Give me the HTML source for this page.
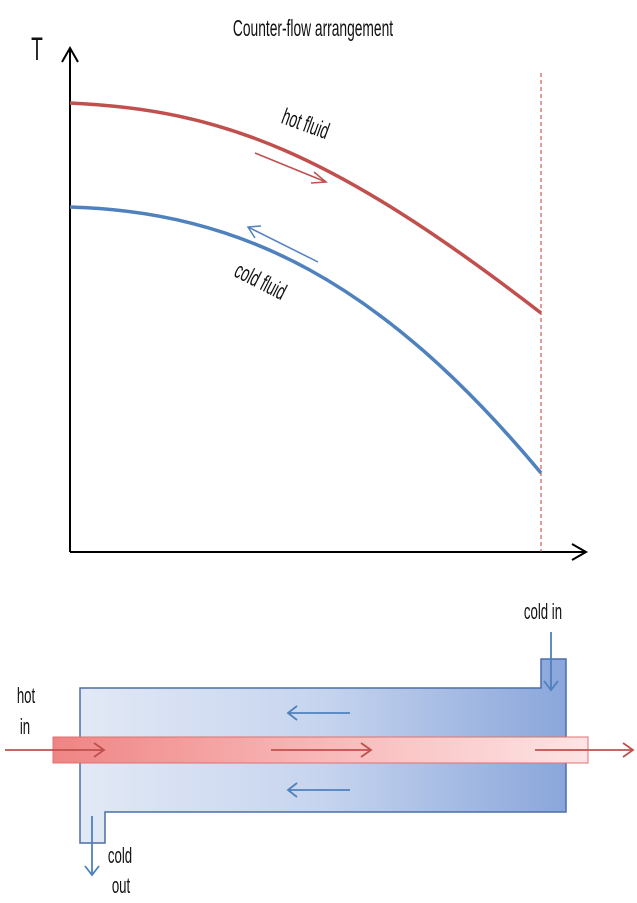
<!DOCTYPE html>
<html><head><meta charset="utf-8"><style>
html,body{margin:0;padding:0;background:#fff}
svg{display:block}
text{font-family:"Liberation Sans",sans-serif;fill:#111}
</style></head><body>
<svg width="637" height="903" viewBox="0 0 637 903" xmlns="http://www.w3.org/2000/svg">
<defs>
<linearGradient id="shell" x1="0" x2="1" y1="0" y2="0">
<stop offset="0" stop-color="#e2e9f6"/><stop offset="0.5" stop-color="#c6d4ee"/><stop offset="1" stop-color="#8aa6db"/>
</linearGradient>
<linearGradient id="tube" x1="0" x2="1" y1="0" y2="0">
<stop offset="0" stop-color="#f08484"/><stop offset="0.5" stop-color="#f8b8b8"/><stop offset="1" stop-color="#fde4e4"/>
</linearGradient>
</defs>
<text x="0" y="0" font-size="23" text-anchor="middle" transform="translate(313,36) scale(0.6,1)">Counter-flow arrangement</text>
<text x="0" y="0" font-size="32" text-anchor="middle" transform="translate(37,60) scale(0.6,1)">T</text>
<line x1="70" y1="48" x2="70" y2="552" stroke="#000" stroke-width="2"/>
<polyline points="62,62 70,48 78,62" fill="none" stroke="#000" stroke-width="2"/>
<line x1="70" y1="552" x2="586" y2="552" stroke="#000" stroke-width="2"/>
<polyline points="572,544 586,552 572,560" fill="none" stroke="#000" stroke-width="2"/>
<line x1="541" y1="73" x2="541" y2="552" stroke="#c0392b" stroke-width="1" stroke-dasharray="4,3"/>
<path d="M70,103 C220,110 330,150 541,313" fill="none" stroke="#c0504d" stroke-width="3.5"/>
<path d="M70,207 C240,212 380,280 541,473" fill="none" stroke="#4f81bd" stroke-width="3.5"/>
<line x1="255" y1="153" x2="326" y2="182" stroke="#c0504d" stroke-width="1.5"/>
<polyline points="314,172 326,182 311,183" fill="none" stroke="#c0504d" stroke-width="1.5"/>
<line x1="318" y1="262" x2="248" y2="227" stroke="#4f81bd" stroke-width="1.5"/>
<polyline points="255,238 248,227 261,226" fill="none" stroke="#4f81bd" stroke-width="1.5"/>
<text x="0" y="0" font-size="23" text-anchor="middle" transform="translate(303,131) rotate(20) scale(0.6,1)">hot fluid</text>
<text x="0" y="0" font-size="23" text-anchor="middle" transform="translate(257,288) rotate(27) scale(0.6,1)">cold fluid</text>
<path d="M80,688 L541,688 L541,659 L566,659 L566,812 L105,812 L105,843 L80,843 Z" fill="url(#shell)" stroke="#4a6fa8" stroke-width="1.5"/>
<rect x="53" y="737" width="535" height="26" fill="url(#tube)" stroke="#e07070" stroke-width="1"/>
<g stroke="#c0504d" stroke-width="1.8" fill="none">
<line x1="5" y1="750" x2="104" y2="750"/><polyline points="94,743 104,750 94,757"/>
<line x1="271" y1="750" x2="371" y2="750"/><polyline points="361,743 371,750 361,757"/>
<line x1="535" y1="750" x2="633" y2="750"/><polyline points="623,743 633,750 623,757"/>
</g>
<g stroke="#4f81bd" stroke-width="1.8" fill="none">
<line x1="350" y1="713" x2="288" y2="713"/><polyline points="297,706 288,713 297,720"/>
<line x1="350" y1="790" x2="288" y2="790"/><polyline points="297,783 288,790 297,797"/>
<line x1="551" y1="632" x2="551" y2="690"/><polyline points="544,681 551,690 558,681"/>
<line x1="92" y1="816" x2="92" y2="875"/><polyline points="85,866 92,875 99,866"/>
</g>
<g font-size="22">
<text x="0" y="0" text-anchor="middle" transform="translate(543,619) scale(0.6,1)">cold in</text>
<text x="0" y="0" text-anchor="middle" transform="translate(26,703) scale(0.6,1)">hot</text>
<text x="0" y="0" text-anchor="middle" transform="translate(25,734) scale(0.6,1)">in</text>
<text x="0" y="0" text-anchor="middle" transform="translate(120,863) scale(0.6,1)">cold</text>
<text x="0" y="0" text-anchor="middle" transform="translate(121,893) scale(0.6,1)">out</text>
</g>
</svg>
</body></html>
